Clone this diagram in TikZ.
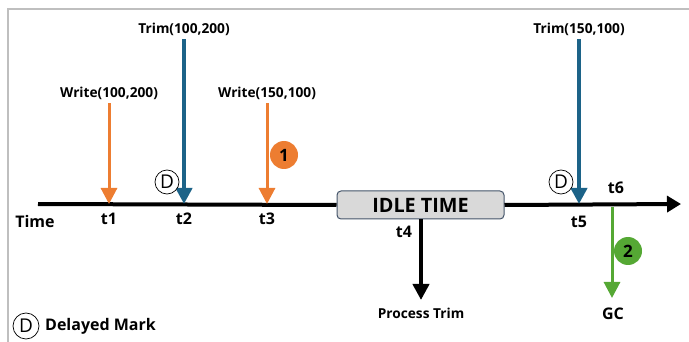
\documentclass[tikz,border=0pt]{standalone}
\usepackage{fontspec}
\setmainfont{Open Sans}
\usetikzlibrary{arrows.meta}
\definecolor{wrcol}{HTML}{ED7D31}
\definecolor{trcol}{HTML}{1C6388}
\definecolor{gccol}{HTML}{55A834}
\definecolor{framecol}{HTML}{BFBFBF}
\definecolor{boxfill}{HTML}{D9D9D9}
\definecolor{boxline}{HTML}{44546A}
\tikzset{
  lbl/.style={font=\bfseries\fontsize{13.7}{15}\selectfont, inner sep=1pt},
  tlbl/.style={font=\bfseries\fontsize{16}{18}\selectfont, inner sep=1pt},
  dmark/.style={circle, draw=black, line width=0.7pt, fill=white, inner sep=0pt,
    minimum size=24pt, font=\fontsize{19}{19}\selectfont},
  numball/.style={circle, inner sep=0pt, minimum size=28pt,
    font=\bfseries\fontsize{17}{17}\selectfont},
  writearrow/.style={draw=wrcol, line width=3pt, -{Triangle[width=16pt,length=16pt]}},
  trimarrow/.style={draw=trcol, line width=4pt, -{Triangle[width=16pt,length=16pt]}},
  gcarrow/.style={draw=gccol, line width=3pt, -{Triangle[width=16pt,length=16pt]}},
  blkarrow/.style={draw=black, line width=4pt, -{Triangle[width=16pt,length=16pt]}},
}
\begin{document}
\begin{tikzpicture}[x=1pt,y=-1pt]
\useasboundingbox (0,0) rectangle (689,342);

% outer frame (top and left edges)
\draw[framecol, line width=2pt] (8,342) -- (8,9) -- (689,9);

% time axis
\coordinate (axs) at (38,204);
\coordinate (axe) at (681,204);
\node[tlbl] (time) at (35,222) {Time};

% idle-time box
\node[draw=boxline, fill=boxfill, line width=1pt, rounded corners=4pt,
      minimum width=167pt, minimum height=28pt, inner sep=0pt,
      font=\bfseries\fontsize{19.8}{21}\selectfont] (idle) at (420.5,205) {IDLE TIME};

\draw[black, line width=4pt] (axs) -- (idle.west);
\draw[black, line width=4pt, -{Triangle[width=16pt,length=14pt]}] (idle.east) -- (axe);

% points on the axis
\coordinate (p1) at (109,204);
\coordinate (p2) at (184,204);
\coordinate (p3) at (267,204);
\coordinate (p5) at (579,204);

% t1: write
\node[lbl] (w1) at (109,93) {Write(100,200)};
\draw[writearrow] (w1.south) ++(0,3) coordinate (w1s) (w1s) -- (p1);
\node[tlbl] (t1) at (109,219) {t1};

% t2: trim
\node[lbl] (tr1) at (184,29) {Trim(100,200)};
\draw[trimarrow] (tr1.south) ++(0,3) coordinate (tr1s) (tr1s) -- (p2);
\node[tlbl] (t2) at (184,219) {t2};
\node[dmark] (d1) at (167,182) {D};

% t3: write
\node[lbl] (w2) at (267,93) {Write(150,100)};
\draw[writearrow] (w2.south) ++(0,3) coordinate (w2s) (w2s) -- (p3);
\node[tlbl] (t3) at (267,219) {t3};
\node[numball, fill=wrcol] (n1) at (284,155) {1};

% t4: trim processing during idle time
\node[tlbl] (t4) at (404,232) {t4};
\coordinate (pt) at (421,300);
\node[lbl] (proc) at (421,313) {Process Trim};
\draw[blkarrow] (idle.south -| pt) -- (pt);

% t5: trim
\node[lbl] (tr2) at (579,29) {Trim(150,100)};
\draw[trimarrow] (tr2.south) ++(0,3) coordinate (tr2s) (tr2s) -- (p5);
\node[tlbl] (t5) at (579,222) {t5};
\node[dmark] (d2) at (561,182) {D};

% t6: garbage collection
\node[tlbl] (t6) at (616,188) {t6};
\coordinate (g0) at (612,207);
\coordinate (g1) at (612,298);
\draw[gcarrow] (g0) -- (g1);
\node[tlbl] (gc) at (613,314) {GC};
\node[numball, fill=gccol] (n2) at (628,251) {2};

% legend
\node[dmark, minimum size=26pt] (dl) at (26,326) {D};
\node[tlbl, anchor=west] (dtext) at (44,326) {Delayed Mark};
\end{tikzpicture}
\end{document}
